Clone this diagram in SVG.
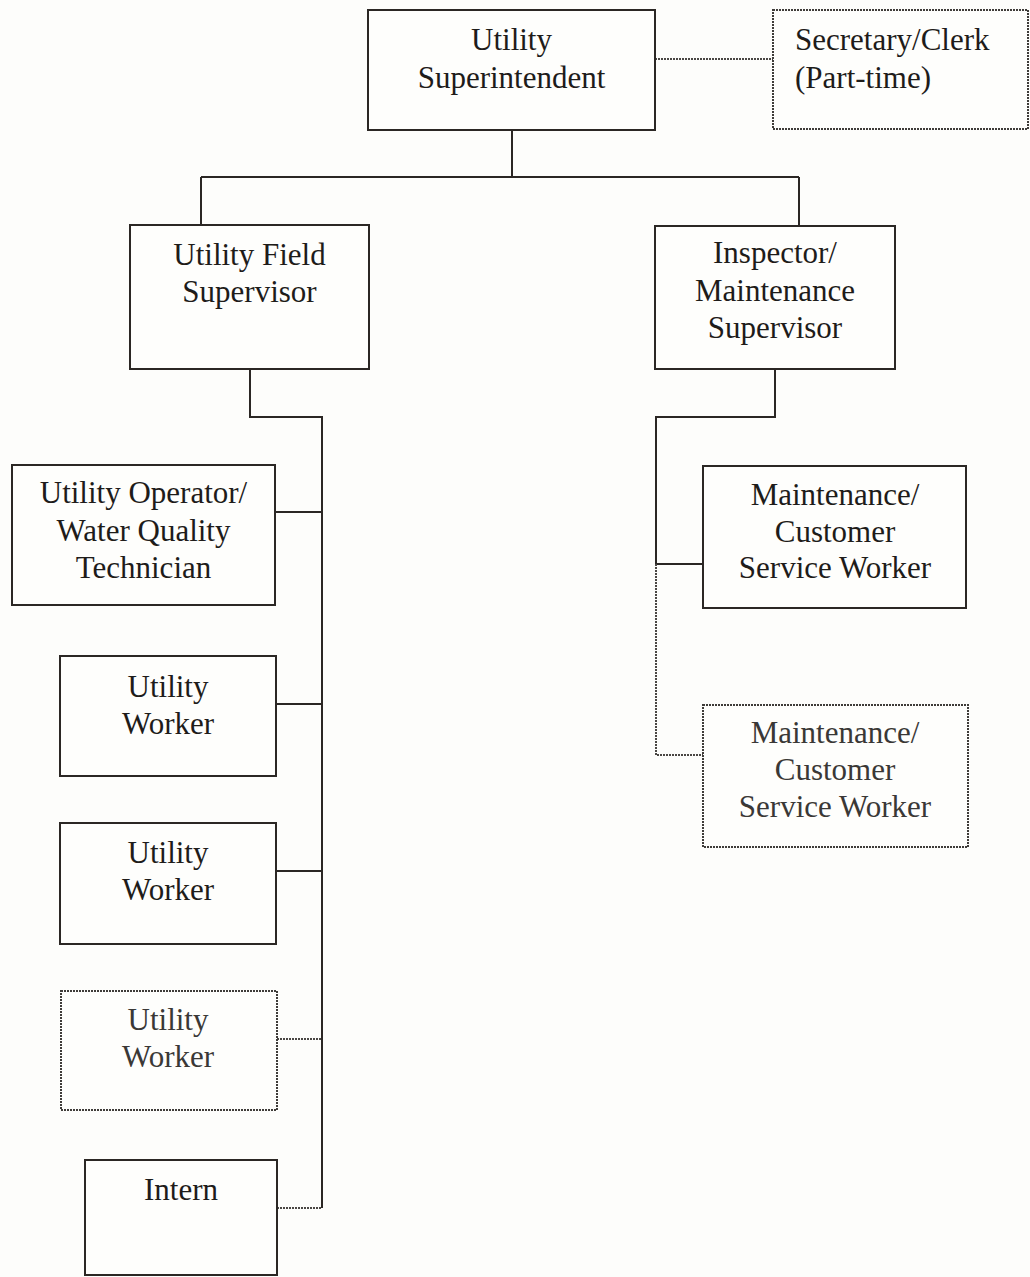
<svg xmlns="http://www.w3.org/2000/svg" width="1030" height="1277" viewBox="0 0 1030 1277">
<style>
.bg{fill:#fdfdfb}
.box{fill:#fefefc;stroke:#2b2724;stroke-width:2}
.dbox{fill:#fefefc;stroke:#3f3c39;stroke-width:2;stroke-dasharray:2 1}
.ln{fill:none;stroke:#2b2724;stroke-width:2}
.dln{fill:none;stroke:#4a4744;stroke-width:2;stroke-dasharray:2 1}
text{font-family:"Liberation Serif","Times New Roman",serif;font-size:31px;fill:#1e1c1a;text-anchor:middle}
text.lt{fill:#3a3836}
text.left{text-anchor:start}
</style>
<rect class="bg" x="0" y="0" width="1030" height="1277"/>
<g id="connectors">
<path class="dln" d="M655,59 H773"/>
<path class="ln" d="M512,130 V177 M201,177 H799 M201,177 V225 M799,177 V226"/>
<path class="ln" d="M250,369 V417 H322 V1208"/>
<path class="ln" d="M275,512 H322"/>
<path class="ln" d="M276,704 H322"/>
<path class="ln" d="M276,871 H322"/>
<path class="dln" d="M277,1039 H322"/>
<path class="dln" d="M277,1208 H322"/>
<path class="ln" d="M775,369 V417 H656 V564"/>
<path class="ln" d="M656,564 H703"/>
<path class="dln" d="M656,564 V755 H703"/>
</g>
<g id="utility-superintendent">
<rect class="box" x="368" y="10" width="287" height="120"/>
<text x="511.5" y="50">Utility</text>
<text x="511.5" y="88">Superintendent</text>
</g>
<g id="secretary-clerk">
<rect class="dbox" x="773" y="10" width="255" height="119"/>
<text class="left" x="795" y="50">Secretary/Clerk</text>
<text class="left" x="795" y="88">(Part-time)</text>
</g>
<g id="utility-field-supervisor">
<rect class="box" x="130" y="225" width="239" height="144"/>
<text x="249.5" y="265">Utility Field</text>
<text x="249.5" y="302">Supervisor</text>
</g>
<g id="inspector-maintenance-supervisor">
<rect class="box" x="655" y="226" width="240" height="143"/>
<text x="775" y="263">Inspector/</text>
<text x="775" y="300.5">Maintenance</text>
<text x="775" y="338">Supervisor</text>
</g>
<g id="utility-operator">
<rect class="box" x="12" y="465" width="263" height="140"/>
<text x="143.5" y="503">Utility Operator/</text>
<text x="143.5" y="540.5">Water Quality</text>
<text x="143.5" y="578">Technician</text>
</g>
<g id="utility-worker-1">
<rect class="box" x="60" y="656" width="216" height="120"/>
<text x="168" y="697">Utility</text>
<text x="168" y="734">Worker</text>
</g>
<g id="utility-worker-2">
<rect class="box" x="60" y="823" width="216" height="121"/>
<text x="168" y="863">Utility</text>
<text x="168" y="900">Worker</text>
</g>
<g id="utility-worker-3">
<rect class="dbox" x="61" y="991" width="216" height="119"/>
<text class="lt" x="168" y="1030">Utility</text>
<text class="lt" x="168" y="1067">Worker</text>
</g>
<g id="intern">
<rect class="box" x="85" y="1160" width="192" height="115"/>
<text x="181" y="1200">Intern</text>
</g>
<g id="maintenance-customer-service-worker-1">
<rect class="box" x="703" y="466" width="263" height="142"/>
<text x="835" y="505">Maintenance/</text>
<text x="835" y="542">Customer</text>
<text x="835" y="578">Service Worker</text>
</g>
<g id="maintenance-customer-service-worker-2">
<rect class="dbox" x="703" y="705" width="265" height="142"/>
<text class="lt" x="835" y="743">Maintenance/</text>
<text class="lt" x="835" y="780">Customer</text>
<text class="lt" x="835" y="817">Service Worker</text>
</g>
</svg>
